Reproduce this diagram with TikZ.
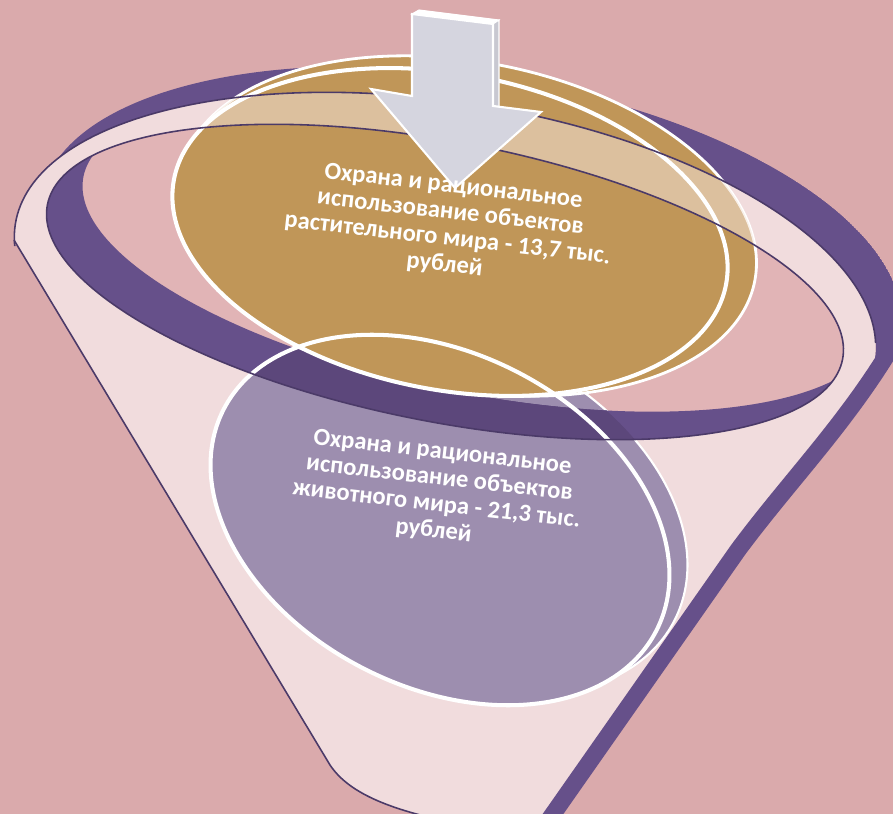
\documentclass[tikz,border=0pt]{standalone}
\usepackage{fontspec}
\setmainfont{Carlito}
\definecolor{rosebg}{HTML}{DAAAAC}
\definecolor{rosein}{HTML}{E1B4B6}
\definecolor{blush}{HTML}{F1DCDD}
\definecolor{glaze}{HTML}{F4E4D8}
\definecolor{plum}{HTML}{5C477B}
\definecolor{plumlt}{HTML}{66508A}
\definecolor{plumline}{HTML}{4B3A68}
\definecolor{ochre}{HTML}{C09658}
\definecolor{lilac}{HTML}{9D8EAF}
\definecolor{silver}{HTML}{D5D5DF}

\begin{document}
\begin{tikzpicture}[x=0.02cm, y=-0.02cm,
  rimout/.style={x radius=435, y radius=190, rotate=-9},
  rimin/.style={x radius=405, y radius=140, rotate=-11},
  goldfront/.style={x radius=281, y radius=158, rotate=-10.8},
  goldback/.style={x radius=292, y radius=164, rotate=-10.8},
  lilacdisc/.style={x radius=243, y radius=167, rotate=-27},
  whiteedge/.style={draw=white, line width=2.3pt},
  thinedge/.style={draw=plumline, line width=0.9pt},
  caption/.style={text=white, font=\fontsize{14}{15}\selectfont\bfseries,
                  align=center, rotate=-6.5}
]

% Canvas
\useasboundingbox (0,0) rectangle (893,814);
\clip (0,0) rectangle (893,814);
\fill[rosebg] (0,0) rectangle (893,814);

% Back of the rim
\begin{scope}
  \clip (471,266) ellipse [rimout];
  \fill[plumlt, even odd rule] (471,266) ellipse [rimout] (445,292) ellipse [rimout];
\end{scope}

% Funnel body
\begin{scope}
  \clip (-167,-60) -- (330,765) -- (330,900) -- (1000,900) -- (1000,-60) -- cycle;
  \fill[blush] (14,240) -- (330,765) .. controls (350,795) and (395,812) .. (470,826)
    -- (539,834) -- (738,550) -- (850,420) -- (445,300) -- cycle;
  \fill[blush] (445,292) ellipse [rimout];
\end{scope}
\fill[rosein] (445,282) ellipse [rimin];

% Right edge of the funnel
\draw[plumlt, line width=0.34cm] (893,345) .. controls (845,425) and (790,480) .. (738,550) -- (539,834);

% Lower disc
\fill[lilac] (458,510) ellipse [lilacdisc];
\draw[white, line width=1.2pt] (458,510) ellipse [lilacdisc];
\fill[lilac] (440,520) ellipse [lilacdisc];

% Front of the rim
\begin{scope}
  \clip (445,282) ellipse [rimin];
  \fill[plumlt, even odd rule] (445,282) ellipse [rimin] (481,254) ellipse [rimin];
\end{scope}
\begin{scope}
  \clip (440,520) ellipse [lilacdisc];
  \clip (445,282) ellipse [rimin];
  \fill[plum, even odd rule] (445,282) ellipse [rimin] (481,254) ellipse [rimin];
\end{scope}
\begin{scope}
  \clip (458,510) ellipse [lilacdisc];
  \clip (445,282) ellipse [rimin];
  \fill[plum, even odd rule] (445,282) ellipse [rimin] (481,254) ellipse [rimin];
\end{scope}

% Upper disc
\fill[ochre] (468,226) ellipse [goldback];
\draw[white, line width=1.6pt] (468,226) ellipse [goldback];
\fill[ochre] (450,232) ellipse [goldfront];
\begin{scope}
  \clip (468,226) ellipse [goldback];
  \fill[glaze, opacity=0.55, even odd rule] (445,292) ellipse [rimout] (445,282) ellipse [rimin];
\end{scope}
\draw[whiteedge] (440,520) ellipse [lilacdisc];
\draw[whiteedge] (450,232) ellipse [goldfront];

% Rim outlines
\begin{scope}
  \clip (0,0) -- (893,0) -- (893,345) -- (14,246) -- (0,246) -- cycle;
  \draw[thinedge] (445,292) ellipse [rimout];
\end{scope}
\draw[thinedge] (445,282) ellipse [rimin];
\draw[thinedge] (14,240) -- (330,765) .. controls (350,795) and (395,812) .. (470,826);

% Arrow
\filldraw[fill=white, draw=white, line width=0.6pt] (412,14) -- (419,10) -- (499,20) -- (493,24) -- cycle;
\filldraw[fill=silver!85!gray, draw=white, line width=0.6pt] (493,24) -- (499,20) -- (499,107) -- (493,106) -- cycle;
\filldraw[fill=silver, draw=white, line width=1.2pt] (412,14) -- (493,24) -- (493,106)
  -- (541,112) -- (455,188) -- (371,89) -- (412,96) -- cycle;

% Labels
\node[caption] (plants) at (449,226) {Охрана и рациональное\\использование объектов\\растительного мира - 13,7 тыс.\\рублей};
\node[caption] (animals) at (438,492) {Охрана и рациональное\\использование объектов\\животного мира - 21,3 тыс.\\рублей};

\end{tikzpicture}
\end{document}
